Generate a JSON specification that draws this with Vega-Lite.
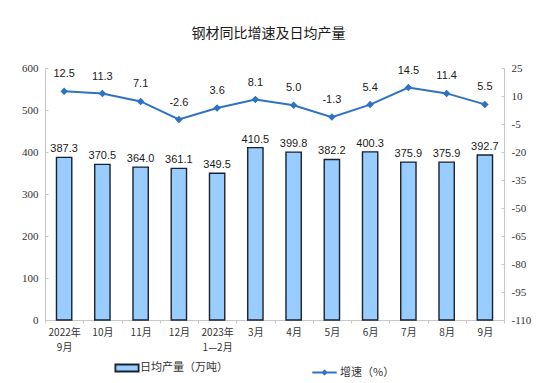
{
  "$schema": "https://vega.github.io/schema/vega-lite/v6.json",
  "autosize": "none",
  "width": 459,
  "height": 252,
  "padding": {"left": 45, "top": 68, "right": 50, "bottom": 63},
  "background": "white",
  "title": {"text": "钢材同比增速及日均产量", "font": "Noto Sans CJK SC", "fontSize": 14, "fontWeight": "normal", "color": "#1a1a1a", "anchor": "middle", "offset": 21, "dx": -6},
  "config": {"view": {"stroke": null}},
  "data": {"values": [
    {"m": "2022年|9月", "v": 387.3, "g": 12.5},
    {"m": "10月", "v": 370.5, "g": 11.3},
    {"m": "11月", "v": 364.0, "g": 7.1},
    {"m": "12月", "v": 361.1, "g": -2.6},
    {"m": "2023年|1—2月", "v": 349.5, "g": 3.6},
    {"m": "3月", "v": 410.5, "g": 8.1},
    {"m": "4月", "v": 399.8, "g": 5.0},
    {"m": "5月", "v": 382.2, "g": -1.3},
    {"m": "6月", "v": 400.3, "g": 5.4},
    {"m": "7月", "v": 375.9, "g": 14.5},
    {"m": "8月", "v": 375.9, "g": 11.4},
    {"m": "9月", "v": 392.7, "g": 5.5}
  ]},
  "encoding": {
    "x": {"field": "m", "type": "nominal", "sort": null,
      "scale": {"paddingInner": 0, "paddingOuter": 0},
      "axis": {"title": null, "labelAngle": 0, "labelExpr": "split(datum.label, '|')", "labelFont": "Noto Sans CJK SC", "labelFontSize": 10, "labelColor": "#333333", "labelPadding": 4, "domainColor": "#c8c8c8", "tickColor": "#c8c8c8", "tickBand": "extent", "tickSize": 3, "labelLineHeight": 15, "labelBaseline": "top"}}
  },
  "layer": [
    {
      "mark": {"type": "bar", "width": {"band": 0.4}, "stroke": "#17222e", "strokeWidth": 1.4},
      "encoding": {
        "y": {"field": "v", "type": "quantitative", "scale": {"domain": [0, 600]},
          "axis": {"title": null, "values": [0, 100, 200, 300, 400, 500, 600], "grid": false, "labelFont": "Liberation Serif", "labelFontSize": 11, "labelColor": "#333333", "domainColor": "#c8c8c8", "tickColor": "#c8c8c8", "tickSize": -3, "labelPadding": 10}},
        "fill": {"datum": "日均产量（万吨）", "type": "nominal", "scale": {"range": ["#99CCFF"]},
          "legend": {"title": null, "orient": "none", "legendX": 73, "legendY": 291, "symbolType": "M-1.5,-0.45H1.5V0.45H-1.5Z", "symbolSize": 240, "symbolStrokeColor": "#17222e", "symbolStrokeWidth": 1.8, "labelFont": "Noto Sans CJK SC", "labelFontSize": 11, "labelColor": "#333333", "labelOffset": 4}}
      }
    },
    {
      "transform": [{"calculate": "replace(format(datum.v, '.1f'), '\u2212', '-')", "as": "lv"}],
      "mark": {"type": "text", "dy": -8, "font": "Liberation Sans", "fontSize": 11, "color": "#1a1a1a"},
      "encoding": {
        "y": {"field": "v", "type": "quantitative", "scale": {"domain": [0, 600]}, "axis": null},
        "text": {"field": "lv", "type": "nominal"}
      }
    },
    {
      "mark": {"type": "line", "strokeWidth": 2, "point": {"shape": "diamond", "size": 22, "filled": true, "color": "#2E72C6"}},
      "encoding": {
        "y": {"field": "g", "type": "quantitative", "scale": {"domain": [-110, 25]},
          "axis": {"title": null, "orient": "right", "values": [25, 10, -5, -20, -35, -50, -65, -80, -95, -110], "labelExpr": "replace(datum.label, '\u2212', '-')", "grid": false, "labelFont": "Liberation Serif", "labelFontSize": 11, "labelColor": "#333333", "domainColor": "#c8c8c8", "tickColor": "#c8c8c8", "tickSize": -3, "labelPadding": 10}},
        "stroke": {"datum": "增速（%）", "type": "nominal", "scale": {"range": ["#2E72C6"]},
          "legend": {"title": null, "orient": "none", "legendX": 266, "legendY": 291, "symbolType": "M-1,0H1M-0.15,0L0,-0.14L0.15,0L0,0.14Z", "symbolSize": 600, "symbolStrokeWidth": 2, "symbolFillColor": "#2E72C6", "labelFont": "Noto Sans CJK SC", "labelFontSize": 11, "labelColor": "#333333", "labelOffset": 2}}
      }
    },
    {
      "transform": [{"calculate": "replace(format(datum.g, '.1f'), '\u2212', '-')", "as": "lg"}],
      "mark": {"type": "text", "dy": -17, "font": "Liberation Sans", "fontSize": 11, "color": "#1a1a1a"},
      "encoding": {
        "y": {"field": "g", "type": "quantitative", "scale": {"domain": [-110, 25]}, "axis": null},
        "text": {"field": "lg", "type": "nominal"}
      }
    }
  ],
  "resolve": {"scale": {"y": "independent"}}
}
